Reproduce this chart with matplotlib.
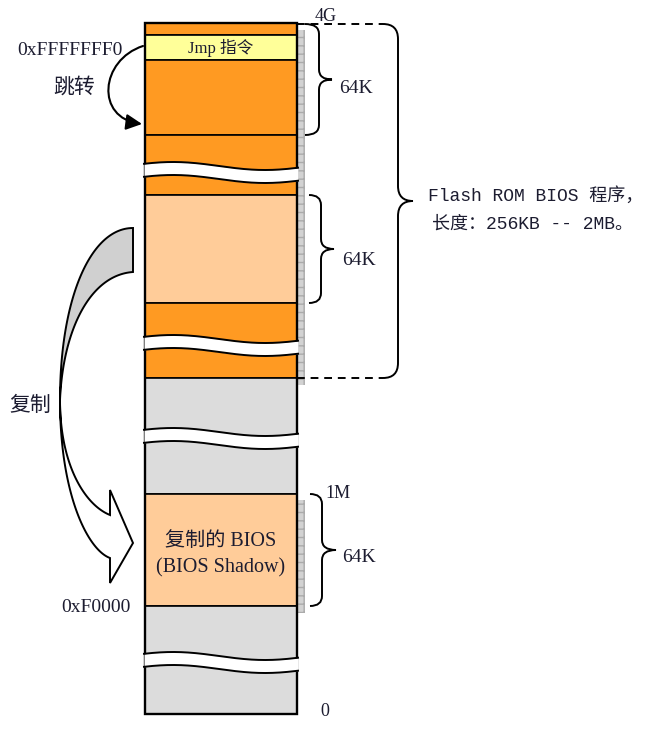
import matplotlib
matplotlib.use("Agg")
import matplotlib.pyplot as plt
import numpy as np
from matplotlib.patches import Rectangle, PathPatch, FancyArrowPatch, Polygon
from matplotlib.path import Path

# ---- data: memory map bands (pixel rows of the diagram) ----
band_top = [23, 35, 60, 135, 195, 303, 378, 494, 606]
band_bottom = [35, 60, 135, 195, 303, 378, 494, 606, 714]
band_color = ['#FF9A22', '#FFFF99', '#FF9A22', '#FF9A22', '#FFCC99',
              '#FF9A22', '#DCDCDC', '#FFCC99', '#DCDCDC']
break_centers = [172, 345, 438, 662]   # wavy "break" marks
address_labels = ['4G', '1M', '0']
size_labels = ['64K', '64K', '64K']

COL_L, COL_R = 145, 297
TXT = '#1c1c30'
SERIF = ['Liberation Serif', 'Noto Sans CJK SC']
MONO = ['Liberation Mono', 'Noto Sans CJK SC']

fig = plt.figure(figsize=(6.6, 7.29), dpi=100)
ax = fig.add_axes([0, 0, 1, 1])
ax.set_xlim(0, 660)
ax.set_ylim(729, 0)
ax.axis('off')

# hatched side strips
for y0, y1 in [(30, 385), (500, 613)]:
    ax.add_patch(Rectangle((COL_R, y0), 8, y1 - y0, facecolor='#D2D2D2',
                           edgecolor='#ABABAB', hatch='++', lw=0, zorder=1))

# bands
for t, b, c in zip(band_top, band_bottom, band_color):
    ax.add_patch(Rectangle((COL_L, t), COL_R - COL_L, b - t, facecolor=c,
                           edgecolor='black', lw=1.2, zorder=2))
ax.add_patch(Rectangle((COL_L, band_top[0]), COL_R - COL_L,
                       band_bottom[-1] - band_top[0], facecolor='none',
                       edgecolor='black', lw=1.7, zorder=4))

# wavy breaks
xs = np.linspace(COL_L - 1, COL_R + 1, 200)
for c in break_centers:
    top = c - 6 - 4 * np.cos(2 * np.pi * (xs - 173) / 184)
    bot = top + 13
    ax.fill_between(xs, top, bot, color='white', zorder=5, lw=0)
    ax.plot(xs, top, color='black', lw=1.4, zorder=6)
    ax.plot(xs, bot, color='black', lw=1.4, zorder=6)


def brace(x_end, y_top, y_bot, x_vert, x_tip, r=10, lw=1.4):
    ym = (y_top + y_bot) / 2
    verts = [(x_end, y_top), (x_vert, y_top), (x_vert, y_top + r),
             (x_vert, ym - r), (x_vert, ym), (x_tip, ym),
             (x_vert, ym), (x_vert, ym + r),
             (x_vert, y_bot - r), (x_vert, y_bot), (x_end, y_bot)]
    codes = [Path.MOVETO, Path.CURVE3, Path.CURVE3, Path.LINETO,
             Path.CURVE3, Path.CURVE3, Path.CURVE3, Path.CURVE3,
             Path.LINETO, Path.CURVE3, Path.CURVE3]
    ax.add_patch(PathPatch(Path(verts, codes), facecolor='none',
                           edgecolor='black', lw=lw, zorder=7))


brace(305, 24, 135, 319, 332)
brace(309, 195, 303, 321, 334)
brace(310, 494, 606, 322, 336)
brace(383, 24, 378, 398, 413, r=15)

# dashed lines to big brace
for y in (24, 378):
    ax.plot([COL_R, 383], [y, y], color='black', lw=1.4,
            dashes=(4, 3), zorder=7)

# jump arrow
jp = Path([(143, 46), (100, 60), (95, 118), (142, 124)],
          [Path.MOVETO, Path.CURVE4, Path.CURVE4, Path.CURVE4])
ax.add_patch(FancyArrowPatch(path=jp, arrowstyle='-|>', mutation_scale=24,
                             color='black', lw=1.5, zorder=8))

# big copy arrow
def bez(p0, p1, p2, p3, n=60):
    t = np.linspace(0, 1, n)[:, None]
    p0, p1, p2, p3 = map(np.array, (p0, p1, p2, p3))
    return (1 - t) ** 3 * p0 + 3 * (1 - t) ** 2 * t * p1 + 3 * (1 - t) * t ** 2 * p2 + t ** 3 * p3

outer = bez((133, 228), (90, 228), (60, 300), (60, 400))
inner = bez((133, 272), (90, 275), (63, 330), (60, 400))
gray_poly = np.vstack([outer, inner[::-1]])
ax.add_patch(Polygon(gray_poly, closed=True, facecolor='#D0D0D0',
                     edgecolor='black', lw=1.4, zorder=3))

w_in = bez((60, 400), (60, 465), (85, 505), (110, 515))
w_out = bez((60, 400), (60, 495), (88, 550), (110, 558))
head = np.array([(110, 515), (110, 490), (133, 543), (110, 583), (110, 558)])
white_poly = np.vstack([w_in, head, w_out[::-1]])
ax.add_patch(Polygon(white_poly, closed=True, facecolor='white',
                     edgecolor='black', lw=1.4, zorder=3))

# texts
fs = 14.5
ax.text(221, 48, 'Jmp 指令', ha='center', va='center', fontsize=12,
        family=SERIF, color=TXT, zorder=9)
ax.text(221, 541, '复制的 BIOS', ha='center', va='center', fontsize=fs,
        family=SERIF, color=TXT, zorder=9)
ax.text(221, 568, '(BIOS Shadow)', ha='center', va='center', fontsize=fs,
        family=SERIF, color=TXT, zorder=9)
ax.text(123, 50, '0xFFFFFFF0', ha='right', va='center', fontsize=14,
        family=SERIF, color=TXT, zorder=9)
ax.text(74, 88, '跳转', ha='center', va='center', fontsize=15,
        family=SERIF, color=TXT, zorder=9)
ax.text(30, 406, '复制', ha='center', va='center', fontsize=15,
        family=SERIF, color=TXT, zorder=9)
ax.text(131, 607, '0xF0000', ha='right', va='center', fontsize=14,
        family=SERIF, color=TXT, zorder=9)
for (x, y), s in zip([(326, 16), (338, 493), (325, 712)], address_labels):
    ax.text(x, y, s, ha='center', va='center', fontsize=13,
            family=SERIF, color=TXT, zorder=9)
for (x, y), s in zip([(356, 88), (359, 260), (359, 558)], size_labels):
    ax.text(x, y, s, ha='center', va='center', fontsize=14,
            family=SERIF, color=TXT, zorder=9)
ax.text(428, 196, 'Flash ROM BIOS 程序，', ha='left', va='center',
        fontsize=13, family=MONO, color=TXT, zorder=9)
ax.text(432, 224, '长度：256KB -- 2MB。', ha='left', va='center',
        fontsize=13, family=MONO, color=TXT, zorder=9)

fig.savefig('out.png', dpi=100, facecolor='white')
